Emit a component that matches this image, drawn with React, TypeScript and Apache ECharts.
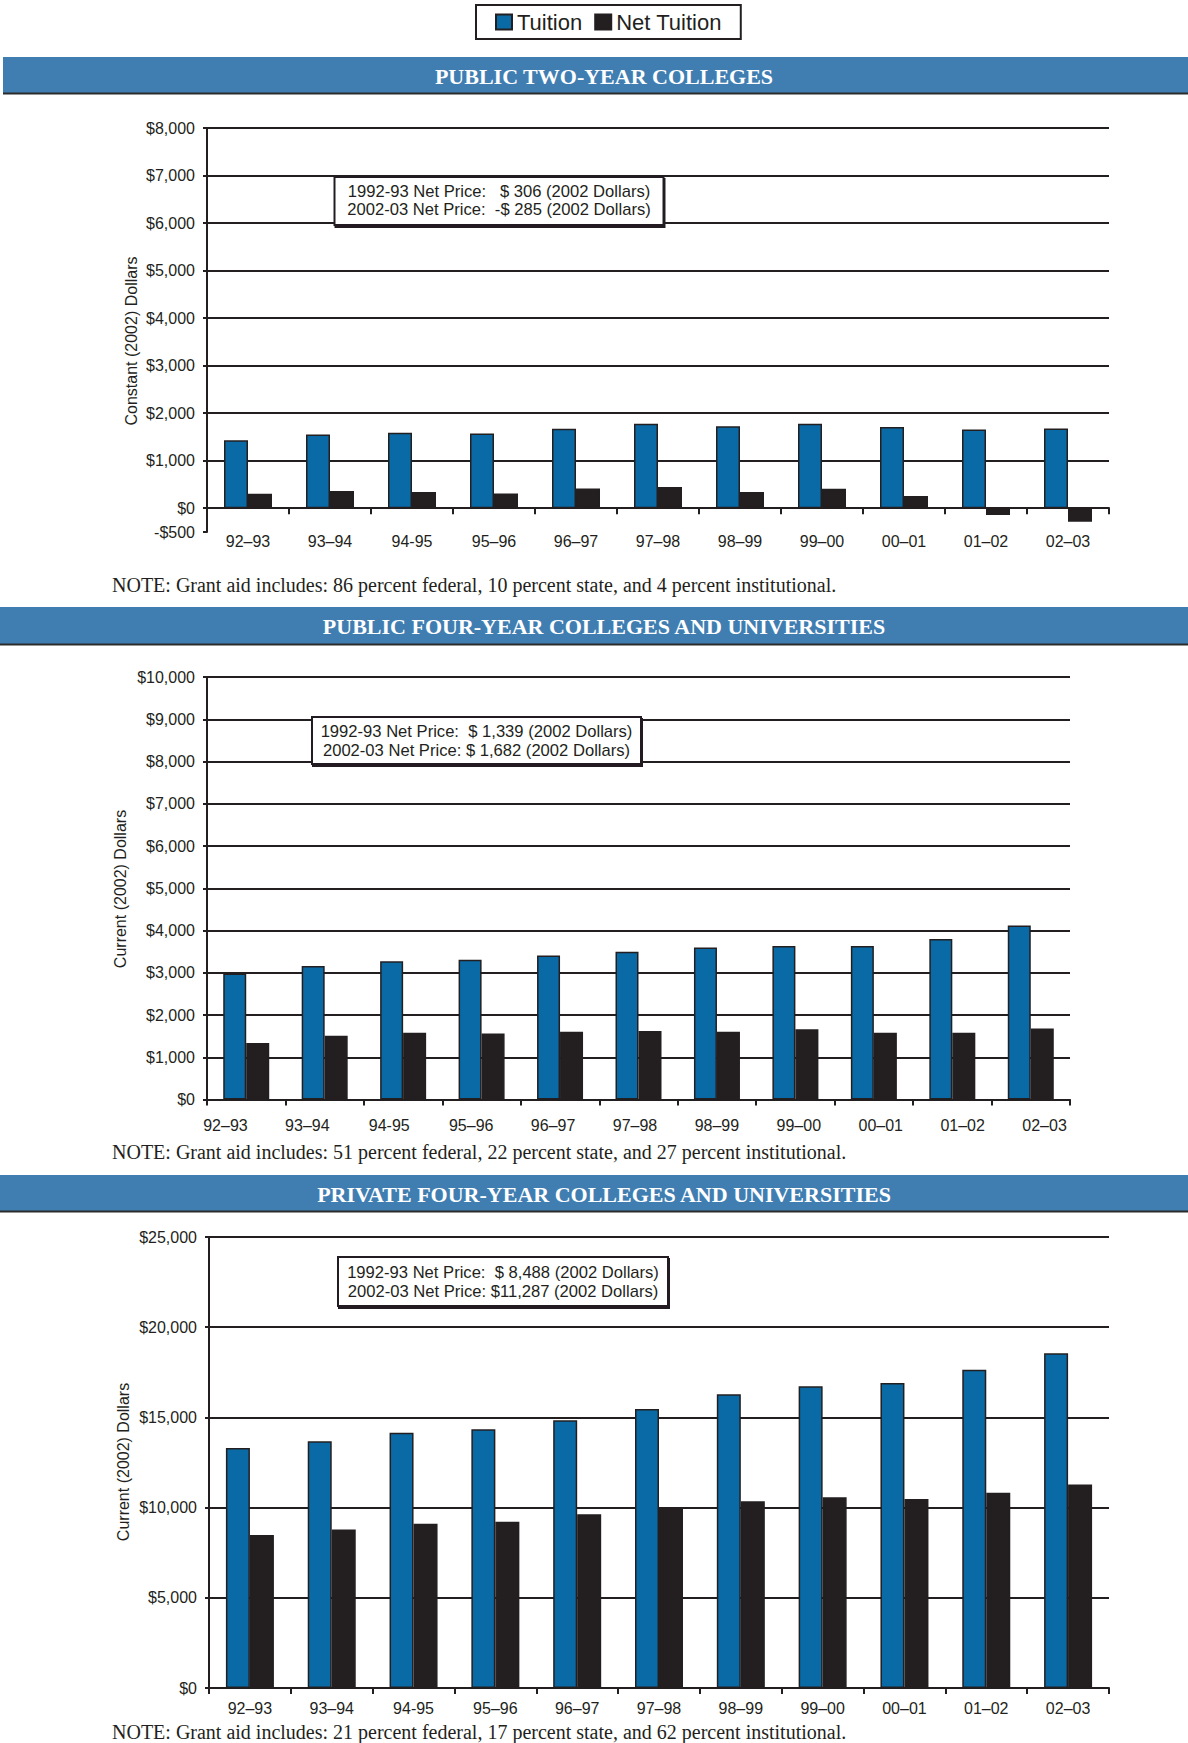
import React, { useEffect, useRef } from "react";
import * as echarts from "echarts";

const categories = ["92–93", "93–94", "94-95", "95–96", "96–97", "97–98", "98–99", "99–00", "00–01", "01–02", "02–03"];

const twoYearTuition = [1430, 1550, 1590, 1570, 1670, 1775, 1725, 1775, 1710, 1655, 1675];
const twoYearNet = [306, 365, 340, 310, 415, 445, 340, 410, 255, -140, -285];

const pubFourTuition = [2980, 3160, 3270, 3310, 3410, 3500, 3595, 3635, 3635, 3800, 4120];
const pubFourNet = [1339, 1510, 1580, 1565, 1605, 1620, 1605, 1660, 1580, 1580, 1682];

const privFourTuition = [13300, 13680, 14150, 14350, 14840, 15470, 16290, 16720, 16900, 17640, 18560];
const privFourNet = [8488, 8780, 9110, 9220, 9630, 10000, 10350, 10570, 10480, 10830, 11287];

const sectionTitles = [
  "PUBLIC TWO-YEAR COLLEGES",
  "PUBLIC FOUR-YEAR COLLEGES AND UNIVERSITIES",
  "PRIVATE FOUR-YEAR COLLEGES AND UNIVERSITIES",
];
const notes = [
  "NOTE: Grant aid includes: 86 percent federal, 10 percent state, and 4 percent institutional.",
  "NOTE: Grant aid includes: 51 percent federal, 22 percent state, and 27 percent institutional.",
  "NOTE: Grant aid includes: 21 percent federal, 17 percent state, and 62 percent institutional.",
];
const boxLines = [
  ["1992-93 Net Price:   $ 306 (2002 Dollars)", "2002-03 Net Price:  -$ 285 (2002 Dollars)"],
  ["1992-93 Net Price:  $ 1,339 (2002 Dollars)", "2002-03 Net Price: $ 1,682 (2002 Dollars)"],
  ["1992-93 Net Price:  $ 8,488 (2002 Dollars)", "2002-03 Net Price: $11,287 (2002 Dollars)"],
];
const yNames = ["Constant (2002) Dollars", "Current (2002) Dollars", "Current (2002) Dollars"];

const TEXT = "#231f20";
const BLUE = "#0a6aa6";
const BAND = "#407eb2";
const SANS = '"Liberation Sans", Arial, sans-serif';
const SERIF = '"Liberation Serif", "Times New Roman", serif';

const money = (v: number) => (v < 0 ? "-$" : "$") + Math.abs(v).toLocaleString("en-US");

function txt(text: string, x: number, y: number, size: number, family: string, opts: any = {}) {
  const align = opts.align || "left";
  return {
    type: "text",
    x,
    y,
    rotation: opts.rotation || 0,
    z: 10,
    silent: true,
    style: {
      text,
      fill: opts.fill || TEXT,
      fontSize: size,
      fontFamily: family,
      fontWeight: opts.weight || "normal",
      textAlign: align,
      textVerticalAlign: "middle",
      align,
      verticalAlign: "middle",
    },
  };
}

export default function App() {
  const ref = useRef<HTMLDivElement>(null);

  useEffect(() => {
    if (!ref.current) return;
    const chart = echarts.init(ref.current, null, { renderer: "svg" });

    const bands = [
      { y: 57, h: 36 },
      { y: 607, h: 37 },
      { y: 1175, h: 36 },
    ];
    const graphics: any[] = [];
    bands.forEach((b, i) => {
      graphics.push({
        type: "rect",
        silent: true,
        shape: { x: i === 0 ? 3 : 0, y: b.y, width: 1188, height: b.h },
        style: { fill: BAND },
      });
      graphics.push({
        type: "line",
        silent: true,
        shape: { x1: i === 0 ? 3 : 0, y1: b.y + b.h + 0.5, x2: 1188, y2: b.y + b.h + 0.5 },
        style: { stroke: "#2b2b2b", lineWidth: 2 },
      });
      graphics.push(txt(sectionTitles[i], 604, b.y + b.h / 2 + 1, 22, SERIF, { align: "center", fill: "#ffffff", weight: "bold" }));
    });

    const noteY = [584.5, 1151.5, 1731.5];
    noteY.forEach((y, i) => graphics.push(txt(notes[i], 112, y, 20, SERIF)));

    const boxes = [
      { x: 334.5, y: 177, w: 329, h: 48, l1: 191, l2: 209 },
      { x: 312, y: 717, w: 329, h: 47, l1: 731, l2: 750 },
      { x: 338, y: 1257, w: 330, h: 49, l1: 1272, l2: 1291 },
    ];
    boxes.forEach((b, i) => {
      graphics.push({
        type: "rect",
        silent: true,
        z: 9,
        shape: { x: b.x, y: b.y, width: b.w, height: b.h },
        style: {
          fill: "#ffffff",
          stroke: TEXT,
          lineWidth: 2,
          shadowColor: TEXT,
          shadowOffsetX: 1,
          shadowOffsetY: 2,
          shadowBlur: 0,
        },
      });
      const cx = b.x + b.w / 2;
      graphics.push(txt(boxLines[i][0], cx, b.l1, 16.6, SANS, { align: "center" }));
      graphics.push(txt(boxLines[i][1], cx, b.l2, 16.6, SANS, { align: "center" }));
    });

    const nameX = [131, 120.5, 123.5];
    const nameY = [341, 889, 1462];
    nameX.forEach((x, i) => graphics.push(txt(yNames[i], x, nameY[i], 16, SANS, { align: "center", rotation: Math.PI / 2 })));

    const grids = [
      { left: 207, top: 128, width: 902, height: 404 },
      { left: 207, top: 677, width: 863, height: 422.5 },
      { left: 209, top: 1237, width: 900, height: 451 },
      { left: 184.5, top: 1099, width: 901, height: 1 },
    ].map((g) => ({ ...g, containLabel: false, outerBoundsMode: "none" }));

    const axisLine = { show: true, lineStyle: { color: TEXT, width: 2 } };
    const splitLine = { show: true, showMinLine: false, lineStyle: { color: TEXT, width: 2 } };
    const yLabel = { color: TEXT, fontSize: 16, fontFamily: SANS, margin: 12, formatter: money, showMinLabel: true, showMaxLabel: true };
    const yTick = { show: true, length: 4, lineStyle: { color: TEXT, width: 2 } };

    const xAxisBase = (gridIndex: number, margin: number, showLabel: boolean) => ({
      type: "category",
      gridIndex,
      data: categories,
      axisLine,
      axisTick: { show: true, length: 6, interval: 0, alignWithLabel: false, lineStyle: { color: TEXT, width: 2 } },
      axisLabel: { show: showLabel, interval: 0, color: TEXT, fontSize: 16, fontFamily: SANS, margin },
      splitLine: { show: false },
    });

    const xAxes = [
      xAxisBase(0, 1, true),
      xAxisBase(1, 18, false),
      xAxisBase(2, 12.5, true),
      {
        type: "category",
        gridIndex: 3,
        data: categories,
        axisLine: { show: false },
        axisTick: { show: false },
        axisLabel: { show: true, interval: 0, color: TEXT, fontSize: 16, fontFamily: SANS, margin: 17.5 },
        splitLine: { show: false },
      },
    ];

    const yAxes = [
      { type: "value", gridIndex: 0, min: -500, max: 8000, splitNumber: 8, axisLine, axisTick: yTick, axisLabel: yLabel, splitLine },
      { type: "value", gridIndex: 1, min: 0, max: 10000, interval: 1000, axisLine, axisTick: yTick, axisLabel: yLabel, splitLine },
      { type: "value", gridIndex: 2, min: 0, max: 25000, interval: 5000, axisLine, axisTick: yTick, axisLabel: yLabel, splitLine },
      { type: "value", gridIndex: 3, show: false, min: 0, max: 1 },
    ];

    const barStyleT = { color: BLUE, borderColor: TEXT, borderWidth: 1.5 };
    const barStyleN = { color: TEXT, borderColor: TEXT, borderWidth: 1.5 };
    const sets = [
      [twoYearTuition, twoYearNet, 24],
      [pubFourTuition, pubFourNet, 23],
      [privFourTuition, privFourNet, 24],
    ] as const;
    const series: any[] = [];
    sets.forEach(([t, n, w], i) => {
      series.push({
        name: "Tuition",
        type: "bar",
        xAxisIndex: i,
        yAxisIndex: i,
        data: t,
        barWidth: w,
        barGap: "0%",
        itemStyle: barStyleT,
        silent: true,
        z: 3,
      });
      series.push({
        name: "Net Tuition",
        type: "bar",
        xAxisIndex: i,
        yAxisIndex: i,
        data: n,
        barWidth: w,
        barGap: "0%",
        itemStyle: barStyleN,
        silent: true,
        z: 3,
      });
    });

    chart.setOption({
      animation: false,
      backgroundColor: "#ffffff",
      textStyle: { fontFamily: SANS, color: TEXT },
      legend: {
        data: ["Tuition", "Net Tuition"],
        left: 476,
        top: 5,
        orient: "horizontal",
        icon: "rect",
        itemWidth: 16,
        itemHeight: 15,
        itemGap: 12,
        selectedMode: false,
        padding: [6, 19, 6, 19],
        borderColor: TEXT,
        borderWidth: 2,
        backgroundColor: "#ffffff",
        textStyle: { color: TEXT, fontSize: 22, fontFamily: SANS, padding: [0, 0, 0, 0] },
      },
      grid: grids,
      xAxis: xAxes,
      yAxis: yAxes,
      series,
      graphic: { elements: graphics },
    });

    return () => chart.dispose();
  }, []);

  return <div ref={ref} style={{ position: "absolute", left: 0, top: 0, width: 1188, height: 1743, background: "#fff" }} />;
}
